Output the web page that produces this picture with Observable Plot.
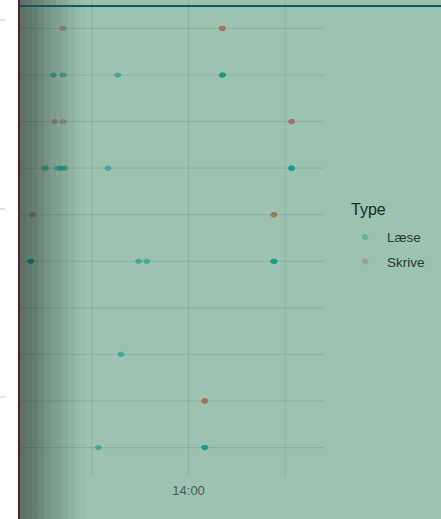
<!DOCTYPE html>
<html><head><meta charset="utf-8">
<script src="https://cdn.jsdelivr.net/npm/d3@7"></script>
<script src="https://cdn.jsdelivr.net/npm/@observablehq/plot@0.6"></script>
<style>
html,body{margin:0;padding:0;background:#fff;}
#wrap{position:relative;width:441px;height:519px;overflow:hidden;font-family:"Liberation Sans",Arial,sans-serif;
background:linear-gradient(to right, #ffffff 0px 18px, #5a1c30 18px 20px, #9cc3b0 20px 441px);}
#wrap > svg{position:absolute;left:0;top:0;}
.shade{position:absolute;left:20px;top:0;width:70px;height:519px;pointer-events:none;
background:linear-gradient(to right,
 rgba(0,0,0,0.42) 0px 6px, rgba(0,0,0,0.39) 6px 12px, rgba(0,0,0,0.35) 12px 18px, rgba(0,0,0,0.30) 18px 24px,
 rgba(0,0,0,0.25) 24px 30px, rgba(0,0,0,0.21) 30px 36px, rgba(0,0,0,0.17) 36px 42px, rgba(0,0,0,0.13) 42px 48px,
 rgba(0,0,0,0.09) 48px 54px, rgba(0,0,0,0.05) 54px 60px, rgba(0,0,0,0.02) 60px 66px, rgba(0,0,0,0) 66px 70px);}
.topline{position:absolute;left:20px;top:5px;width:421px;height:2px;background:#16585a;}
.tickfrag{position:absolute;left:0;width:5px;height:2px;background:#e4e4e4;}
</style></head>
<body><div id="wrap"></div>
<script>
// categories (rows, top to bottom) – their labels are cut off in the reference
const rows = ["1","2","3","4","5","6","7","8","9","10"];
const types = ["Læse","Skrive"];
const typeColors = ["#0f9c8a","#a56f58"];

// Læse observations (row, time)
const laeseRow  = ["2","2","2","2","2","2","4","4","4","4","4","4","4","4","6","6","6","6","6","6","6","8","10","10","10","10"];
const laeseTime = ["12:36","12:42","13:16","14:21","14:21","14:21","12:31","12:39","12:41","12:43","13:10","15:04","15:04","15:04","12:22","12:22","13:29","13:34","14:53","14:53","14:53","13:18","13:04","14:10","14:10","14:10"];
// Skrive observations (row, time)
const skriveRow  = ["1","1","1","1","3","3","3","3","3","5","5","5","5","9","9","9"];
const skriveTime = ["12:42","14:21","14:21","14:21","12:37","12:42","15:04","15:04","15:04","12:23","14:53","14:53","14:53","14:10","14:10","14:10"];

const gridTimes = ["13:00","14:00","15:00"];
const labelTimes = ["14:00"];
const xDomainTimes = ["12:15","15:24.4"];

const toMin = s => { const [h,m] = s.split(":"); return +h*60 + +m; };
const fmt = m => `${Math.floor(m/60)}:${String(Math.round(m%60)).padStart(2,"0")}`;

const data = [
  ...laeseRow.map((r,i)=>({row:r, t:toMin(laeseTime[i]), type:"Læse"})),
  ...skriveRow.map((r,i)=>({row:r, t:toMin(skriveTime[i]), type:"Skrive"}))
];

const ellipse = {
  draw(ctx, size){
    const ry = Math.sqrt(size/(Math.PI*1.3)), rx = ry*1.3, k = 0.5523;
    ctx.moveTo(rx,0);
    ctx.bezierCurveTo(rx,k*ry,k*rx,ry,0,ry);
    ctx.bezierCurveTo(-k*rx,ry,-rx,k*ry,-rx,0);
    ctx.bezierCurveTo(-rx,-k*ry,-k*rx,-ry,0,-ry);
    ctx.bezierCurveTo(k*rx,-ry,rx,-k*ry,rx,0);
    ctx.closePath();
  }
};

const gridColor = "#5f8673";
const chart = Plot.plot({
  width: 441, height: 519,
  marginLeft: 19, marginRight: 117, marginTop: 0, marginBottom: 44,
  style: {background:"transparent", fontFamily:"Liberation Sans, Arial, sans-serif"},
  x: {domain: xDomainTimes.map(toMin), axis: null},
  y: {type:"point", domain: rows, padding: 0.6, round: false, axis: null},
  color: {domain: types, range: typeColors, legend: false},
  marks: [
    Plot.gridY(rows, {stroke: gridColor, strokeOpacity: 0.27, strokeWidth: 1}),
    Plot.gridX(gridTimes.map(toMin), {stroke: gridColor, strokeOpacity: 0.27, strokeWidth: 1}),
    Plot.dot(data, {x:"t", y:"row", fill:"type", r:3, symbol: ellipse, fillOpacity:0.6, stroke:"none"}),
    Plot.axisX(labelTimes.map(toMin), {tickSize:0, tickPadding:10, tickFormat: fmt, fontSize:13, fill:"#4b5e57", label:null})
  ]
});
const wrap = document.getElementById("wrap");
wrap.appendChild(chart);

// dark shading band over the left edge of the panel
const shadeDiv = document.createElement("div"); shadeDiv.className = "shade"; wrap.appendChild(shadeDiv);
const topLineDiv = document.createElement("div"); topLineDiv.className = "topline"; wrap.appendChild(topLineDiv);

// small clipped tick fragments at the far left
[20,209,397].forEach(y=>{ const d=document.createElement("div"); d.className="tickfrag"; d.style.top=(y-1)+"px"; wrap.appendChild(d); });

// legend
const leg = d3.select(wrap).append("svg").attr("width",441).attr("height",519)
  .style("position","absolute").style("left","0").style("top","0");
leg.append("text").attr("x",351).attr("y",215).attr("font-size",16).attr("fill","#1b2a25")
  .attr("font-family","Liberation Sans, Arial, sans-serif").text("Type");
types.forEach((t,i)=>{
  const cy = 237 + i*24.5;
  leg.append("ellipse").attr("cx",365).attr("cy",cy).attr("rx",3.3).attr("ry",2.9)
    .attr("fill",typeColors[i]).attr("fill-opacity",0.4);
  leg.append("text").attr("x",387).attr("y",cy+5.3).attr("font-size",13.5).attr("fill","#2a3a35")
    .attr("font-family","Liberation Sans, Arial, sans-serif").text(t);
});
</script></body></html>
